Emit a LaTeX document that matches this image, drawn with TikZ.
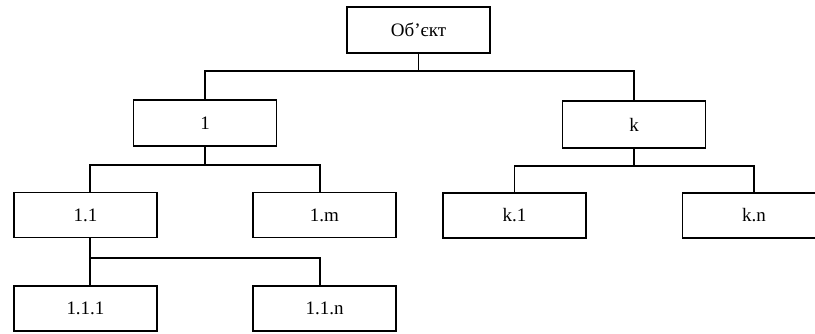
\documentclass[tikz,border=0pt]{standalone}
\usepackage{fontspec}
\setmainfont{Liberation Serif}
\begin{document}
\begin{tikzpicture}[x=1pt,y=-1pt,
  box/.style={draw,line width=1.1pt,minimum width=143pt,minimum height=45pt,
    inner sep=0pt,font=\fontsize{19}{22}\selectfont},
  link/.style={line width=1.1pt}]
\useasboundingbox (0,0) rectangle (815,333);
\clip (0,0) rectangle (815,333);
% tree nodes
\node[box,minimum height=46pt] (root) at (418.5,30) {Об’єкт};
\node[box,minimum height=46pt] (n1) at (205,123) {1};
\node[box,minimum height=47pt] (nk) at (634,124.5) {k};
\node[box] (n11) at (85.5,215) {1.1};
\node[box] (n1m) at (324.5,215) {1.m};
\node[box] (nk1) at (514.5,215.5) {k.1};
\node[box] (nkn) at (754,215.5) {k.n};
\node[box] (n111) at (85.5,308.5) {1.1.1};
\node[box] (n11n) at (324.5,308.5) {1.1.n};
% bus levels
\coordinate (b0) at (0,71);
\coordinate (b1) at (0,165);
\coordinate (b2) at (0,166);
\coordinate (b3) at (0,258);
% connectors
\draw[link] (root.south) -- (root.south |- b0) -| (n1.north);
\draw[link] (root.south |- b0) -| (nk.north);
\draw[link] (n1.south) -- (n1.south |- b1) -| ([xshift=4.5pt]n11.north);
\draw[link] (n1.south |- b1) -| ([xshift=-4.5pt]n1m.north);
\draw[link] (nk.south) -- (nk.south |- b2) -| (nk1.north);
\draw[link] (nk.south |- b2) -| (nkn.north);
\draw[link] ([xshift=4.5pt]n11.south) -- ([xshift=4.5pt]n111.north);
\draw[link] ([xshift=4.5pt]n11.south |- b3) -| ([xshift=-4.5pt]n11n.north);
\end{tikzpicture}
\end{document}
